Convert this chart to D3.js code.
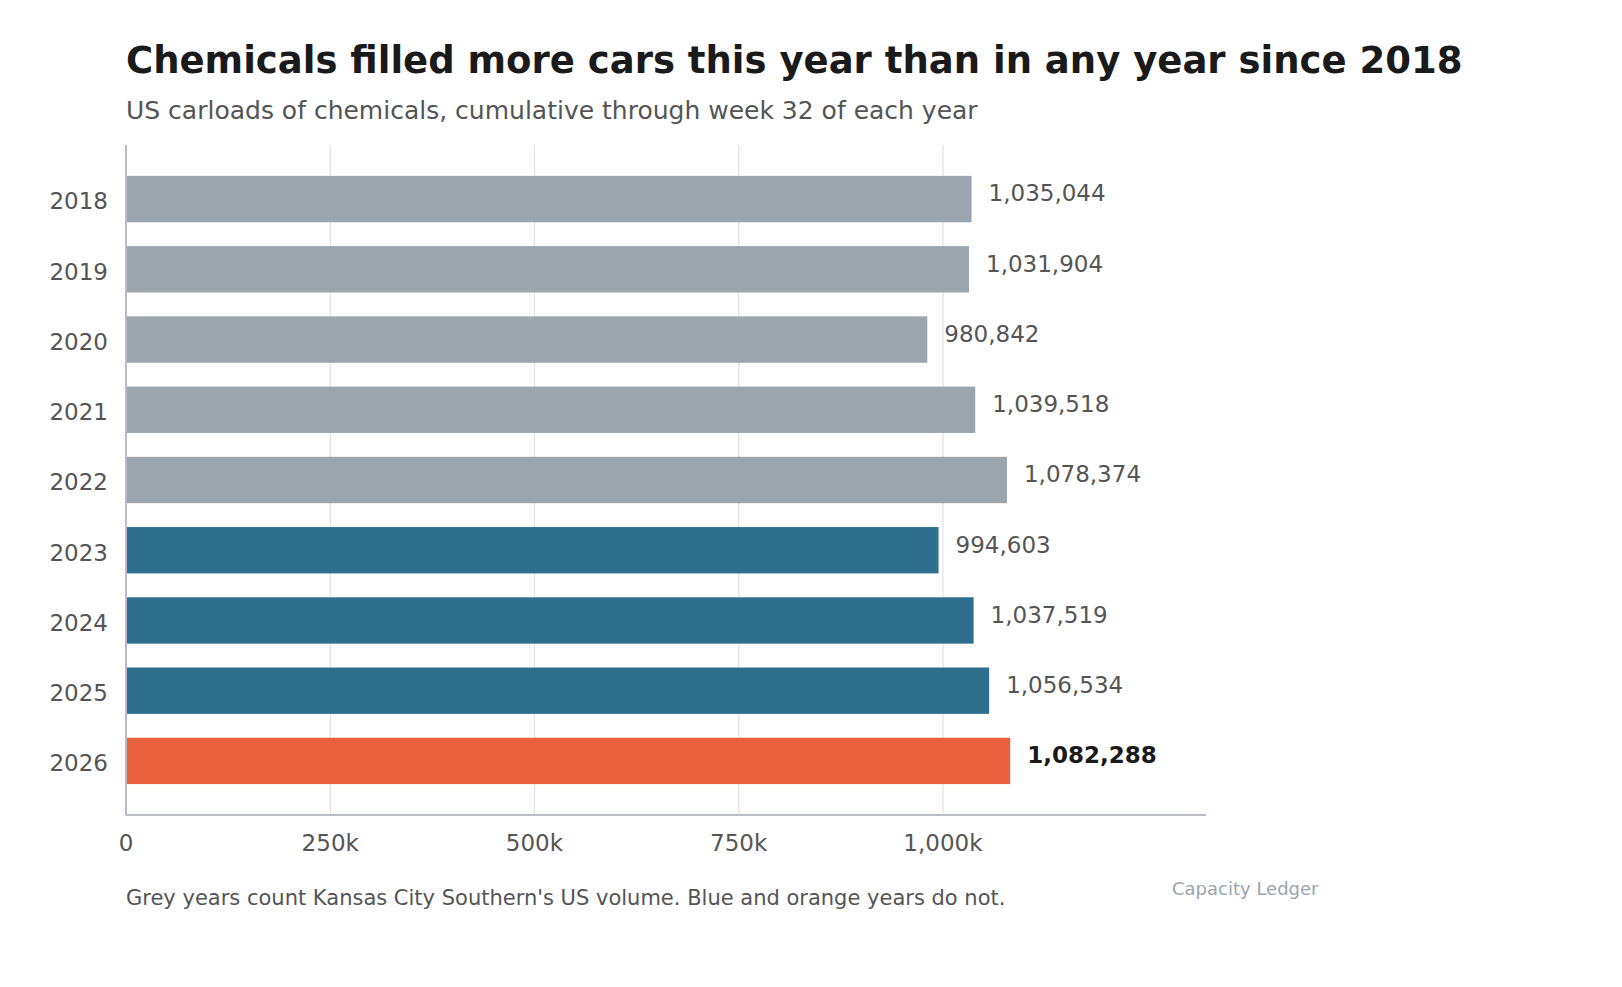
<!DOCTYPE html>
<html><head><meta charset="utf-8">
<script src="https://cdn.jsdelivr.net/npm/d3@7"></script>
<style>body{margin:0;background:#fff;font-family:"DejaVu Sans",sans-serif}</style>
</head><body><svg id="chart" width="1622" height="987"></svg>
<script>
const years = ["2018","2019","2020","2021","2022","2023","2024","2025","2026"];
const carloads = [1035044,1031904,980842,1039518,1078374,994603,1037519,1056534,1082288];
const groups = ["grey","grey","grey","grey","grey","blue","blue","blue","orange"];
const xTicks = [0,250000,500000,750000,1000000];
const tickLabels = ["0","250k","500k","750k","1,000k"];

const colors = {grey:"#9aa5ae", blue:"#2e6f8e", orange:"#e8603c"};
const svg = d3.select("#chart");
const plotLeft = 126, plotRight = 1206, plotTop = 145, plotBottom = 815;

const x = d3.scaleLinear().domain([0, 1322000]).range([plotLeft, plotRight]);
const y = d3.scaleBand().domain(years).range([plotTop, plotBottom]).paddingInner(0.34).paddingOuter(0.44);
const fmt = d3.format(",");

// gridlines
svg.selectAll(".grid").data(xTicks.slice(1)).join("line")
  .attr("x1", d => x(d)).attr("x2", d => x(d)).attr("y1", plotTop).attr("y2", plotBottom)
  .attr("stroke", "#e3e3e3").attr("stroke-width", 1.3);

// bars
svg.selectAll(".bar").data(years).join("rect")
  .attr("x", x(0)).attr("y", d => y(d))
  .attr("width", (d,i) => x(carloads[i]) - x(0)).attr("height", y.bandwidth())
  .attr("fill", (d,i) => colors[groups[i]]);

// value labels
svg.selectAll(".val").data(years).join("text")
  .attr("x", (d,i) => x(carloads[i]) + 17).attr("y", d => y(d) + y.bandwidth()/2)
  .attr("dy", "0.1em").attr("font-size", 23)
  .attr("font-weight", (d,i) => i === years.length-1 ? "bold" : "normal")
  .attr("fill", (d,i) => i === years.length-1 ? "#1a1a1a" : "#555")
  .text((d,i) => fmt(carloads[i]));

// year labels
svg.selectAll(".yr").data(years).join("text")
  .attr("x", 108).attr("y", d => y(d) + y.bandwidth()/2).attr("dy", "0.45em")
  .attr("text-anchor", "end").attr("font-size", 23).attr("fill", "#555").text(d => d);

// axis lines
svg.append("line").attr("x1", plotLeft).attr("x2", plotLeft).attr("y1", plotTop).attr("y2", plotBottom)
  .attr("stroke", "#b9bec6").attr("stroke-width", 2);
svg.append("line").attr("x1", plotLeft).attr("x2", plotRight).attr("y1", plotBottom).attr("y2", plotBottom)
  .attr("stroke", "#b9bec6").attr("stroke-width", 2);

svg.selectAll(".xt").data(xTicks).join("text")
  .attr("x", d => x(d)).attr("y", 851).attr("text-anchor", "middle")
  .attr("font-size", 23).attr("fill", "#555").text((d,i) => tickLabels[i]);

// titles
svg.append("text").attr("x", 126).attr("y", 73).attr("font-size", 37).attr("font-weight", "bold")
  .attr("fill", "#1a1a1a").text("Chemicals filled more cars this year than in any year since 2018");
svg.append("text").attr("x", 126).attr("y", 119).attr("font-size", 25).attr("fill", "#555")
  .text("US carloads of chemicals, cumulative through week 32 of each year");
svg.append("text").attr("x", 126).attr("y", 905).attr("font-size", 21).attr("fill", "#555")
  .text("Grey years count Kansas City Southern's US volume. Blue and orange years do not.");
svg.append("text").attr("x", 1172).attr("y", 895).attr("font-size", 18).attr("fill", "#9aa5ae")
  .text("Capacity Ledger");
</script></body></html>
